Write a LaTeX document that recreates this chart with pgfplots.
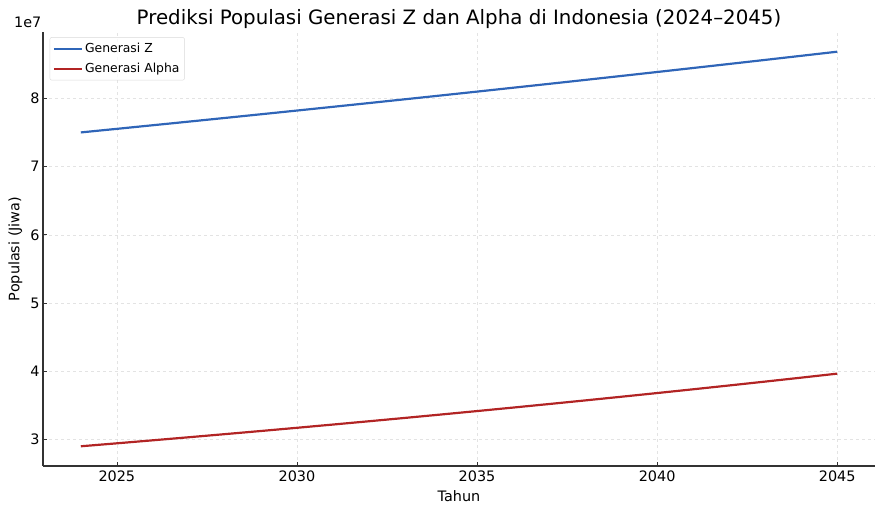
\documentclass[border=0pt]{standalone}
\usepackage{fontspec}
\setmainfont{DejaVu Sans}
\usepackage{pgfplots}
\pgfplotsset{compat=1.18}
\definecolor{genz}{HTML}{2F65B8}
\definecolor{alpha}{HTML}{B22424}
\definecolor{spine}{HTML}{333333}
\begin{document}
\begin{tikzpicture}
\useasboundingbox (-43bp,-39bp) rectangle (832bp,466bp);
\begin{axis}[
  name=ax,
  at={(0,0)}, anchor=south west,
  scale only axis, width=832bp, height=434bp,
  xmin=2022.95, xmax=2046.05, ymin=2.611, ymax=8.972,
  axis lines*=left,
  axis line style={spine, line width=1.1pt},
  xtick={2025,2030,2035,2040,2045},
  ytick={3,4,5,6,7,8},
  tick align=inside,
  major tick length=4bp,
  every tick/.style={spine, line width=0.6pt},
  /pgf/number format/1000 sep={},
  /pgf/number format/assume math mode=true,
  ticklabel style={font=\fontsize{14.4bp}{16bp}\selectfont, text=black},
  xticklabel style={yshift=-1bp},
  grid=major,
  grid style={dashed, gray!22, line width=0.4pt},
  xlabel={Tahun}, ylabel={Populasi (Jiwa)},
  label style={font=\fontsize{14.4bp}{16bp}\selectfont},
  xlabel style={yshift=-2bp},
  ylabel style={yshift=1bp},
  title={Prediksi Populasi Generasi Z dan Alpha di Indonesia (2024–2045)},
  title style={font=\fontsize{19.8bp}{22bp}\selectfont, yshift=-6bp},
  legend style={at={(0.008,0.988)}, anchor=north west, font=\fontsize{12.4bp}{14bp}\selectfont,
    draw=gray!30, rounded corners=2bp, fill=white, fill opacity=0.8, text opacity=1,
    row sep=5bp, inner xsep=3bp, inner ysep=4bp},
  legend cell align=left,
  legend image code/.code={\draw[#1, line width=2.2pt] (0bp,0bp) -- (28bp,0bp);},
]
\addplot[genz, line width=2.2pt] coordinates {
(2024,7.5000) (2025,7.5525) (2026,7.6054) (2027,7.6586) (2028,7.7122) (2029,7.7662)
(2030,7.8206) (2031,7.8753) (2032,7.9304) (2033,7.9860) (2034,8.0419) (2035,8.0982)
(2036,8.1548) (2037,8.2119) (2038,8.2694) (2039,8.3273) (2040,8.3856) (2041,8.4443)
(2042,8.5034) (2043,8.5629) (2044,8.6229) (2045,8.6832)};
\addlegendentry{Generasi Z}
\addplot[alpha, line width=2.2pt] coordinates {
(2024,2.9000) (2025,2.9435) (2026,2.9877) (2027,3.0325) (2028,3.0780) (2029,3.1241)
(2030,3.1710) (2031,3.2186) (2032,3.2668) (2033,3.3158) (2034,3.3656) (2035,3.4161)
(2036,3.4673) (2037,3.5193) (2038,3.5721) (2039,3.6257) (2040,3.6801) (2041,3.7353)
(2042,3.7913) (2043,3.8482) (2044,3.9059) (2045,3.9645)};
\addlegendentry{Generasi Alpha}
\end{axis}
\node[anchor=south west, font=\fontsize{14.4bp}{16bp}\selectfont, inner sep=0pt] at (-29bp,438bp) {1e7};
\end{tikzpicture}
\end{document}
